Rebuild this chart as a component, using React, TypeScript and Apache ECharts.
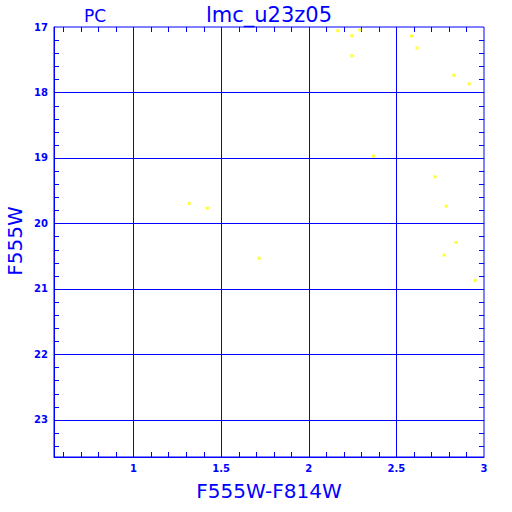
import React, { useEffect, useRef } from "react";
import * as echarts from "echarts";

const BLUE = "#0000ff";
const POINT_COLOR = "#ffff00";

const xRange = [0.547, 3];
const yRange = [17, 23.57];
const xMajor = [1, 1.5, 2, 2.5];
const xLabels = [1, 1.5, 2, 2.5, 3];
const xMinor = [0.6, 0.7, 0.8, 0.9, 1.1, 1.2, 1.3, 1.4, 1.6, 1.7, 1.8, 1.9, 2.1, 2.2, 2.3, 2.4, 2.6, 2.7, 2.8, 2.9];
const yMajor = [18, 19, 20, 21, 22, 23];
const yLabels = [17, 18, 19, 20, 21, 22, 23];
const yMinor = [
  17.2, 17.4, 17.6, 17.8, 18.2, 18.4, 18.6, 18.8, 19.2, 19.4, 19.6, 19.8,
  20.2, 20.4, 20.6, 20.8, 21.2, 21.4, 21.6, 21.8, 22.2, 22.4, 22.6, 22.8, 23.2, 23.4,
];

const colorIndex = [2.166, 2.246, 2.292, 2.246, 2.586, 2.618, 2.828, 2.915, 2.369, 2.721, 2.784, 2.841, 2.772, 2.949, 1.318, 1.422, 1.717];
const magnitude = [17.057, 17.133, 17.046, 17.439, 17.138, 17.321, 17.739, 17.867, 18.972, 19.289, 19.737, 20.292, 20.486, 20.873, 19.696, 19.768, 20.532];

export default function App() {
  const ref = useRef<HTMLDivElement>(null);
  useEffect(() => {
    if (!ref.current) return;
    const chart = echarts.init(ref.current, null, { renderer: "svg" });
    const lineStyle = { stroke: BLUE, lineWidth: 1 };
    const tickLen = 5;
    const option: any = {
      animation: false,
      backgroundColor: "#ffffff",
      grid: {
        left: 54,
        right: 28,
        top: 27,
        bottom: 55,
        show: true,
        borderColor: BLUE,
        borderWidth: 1,
        backgroundColor: "transparent",
      },
      xAxis: {
        type: "value",
        min: xRange[0],
        max: xRange[1],
        axisLine: { show: true, lineStyle: { color: BLUE, width: 1 } },
        axisTick: { show: false },
        splitLine: { show: false },
        axisLabel: {
          customValues: xLabels,
          color: BLUE,
          fontSize: 10,
          fontWeight: "bold",
          fontFamily: "DejaVu Sans",
          margin: 6,
          formatter: (v: number) => String(v),
        },
      },
      yAxis: {
        type: "value",
        inverse: true,
        min: yRange[0],
        max: yRange[1],
        interval: 1,
        axisLine: { show: true, lineStyle: { color: BLUE, width: 1 } },
        axisTick: { show: false },
        splitLine: { show: false },
        axisLabel: {
          customValues: yLabels,
          color: BLUE,
          fontSize: 10,
          fontWeight: "bold",
          fontFamily: "DejaVu Sans",
          margin: 6,
          formatter: (v: number) => String(v),
        },
      },
      graphic: [
        {
          type: "text",
          x: 95,
          y: 16,
          style: { text: "PC", fill: BLUE, font: "17px 'DejaVu Sans'", textAlign: "center", textVerticalAlign: "middle" },
        },
        {
          type: "text",
          x: 269,
          y: 15,
          style: { text: "lmc_u23z05", fill: BLUE, font: "21px 'DejaVu Sans'", textAlign: "center", textVerticalAlign: "middle" },
        },
        {
          type: "text",
          x: 269,
          y: 491,
          style: { text: "F555W-F814W", fill: BLUE, font: "20px 'DejaVu Sans'", textAlign: "center", textVerticalAlign: "middle" },
        },
        {
          type: "text",
          x: 15,
          y: 241,
          rotation: Math.PI / 2,
          style: { text: "F555W", fill: BLUE, font: "20px 'DejaVu Sans'", textAlign: "center", textVerticalAlign: "middle" },
        },
      ],
      series: [
        {
          type: "custom",
          name: "xGrid",
          clip: false,
          silent: true,
          z: 1,
          data: xMajor.map((v) => [v, yRange[0]]),
          renderItem: (params: any, api: any) => {
            const cs = params.coordSys;
            const px = Math.round(api.coord([api.value(0), api.value(1)])[0]) + 0.5;
            return { type: "line", shape: { x1: px, y1: cs.y, x2: px, y2: cs.y + cs.height }, style: lineStyle };
          },
        },
        {
          type: "custom",
          name: "yGrid",
          clip: false,
          silent: true,
          z: 1,
          data: yMajor.map((v) => [xMajor[0], v]),
          renderItem: (params: any, api: any) => {
            const cs = params.coordSys;
            const py = Math.round(api.coord([api.value(0), api.value(1)])[1]) + 0.5;
            return { type: "line", shape: { x1: cs.x, y1: py, x2: cs.x + cs.width, y2: py }, style: lineStyle };
          },
        },
        {
          type: "custom",
          name: "xMinor",
          clip: false,
          silent: true,
          z: 1,
          data: xMinor.map((v) => [v, yRange[0]]),
          renderItem: (params: any, api: any) => {
            const cs = params.coordSys;
            const px = Math.round(api.coord([api.value(0), api.value(1)])[0]) + 0.5;
            return {
              type: "group",
              children: [
                { type: "line", shape: { x1: px, y1: cs.y, x2: px, y2: cs.y + tickLen }, style: lineStyle },
                { type: "line", shape: { x1: px, y1: cs.y + cs.height, x2: px, y2: cs.y + cs.height - tickLen }, style: lineStyle },
              ],
            };
          },
        },
        {
          type: "custom",
          name: "yMinor",
          clip: false,
          silent: true,
          z: 1,
          data: yMinor.map((v) => [xMajor[0], v]),
          renderItem: (params: any, api: any) => {
            const cs = params.coordSys;
            const py = Math.round(api.coord([api.value(0), api.value(1)])[1]) + 0.5;
            return {
              type: "group",
              children: [
                { type: "line", shape: { x1: cs.x, y1: py, x2: cs.x + tickLen, y2: py }, style: lineStyle },
                { type: "line", shape: { x1: cs.x + cs.width, y1: py, x2: cs.x + cs.width - tickLen, y2: py }, style: lineStyle },
              ],
            };
          },
        },
        {
          type: "scatter",
          name: "stars",
          z: 3,
          symbol: "rect",
          symbolSize: 3,
          itemStyle: { color: POINT_COLOR },
          data: colorIndex.map((x, i) => [x, magnitude[i]]),
        },
      ],
    };
    chart.setOption(option);
    return () => chart.dispose();
  }, []);
  return (
    <div
      ref={ref}
      style={{ position: "absolute", left: 0, top: 0, width: 512, height: 512 }}
    />
  );
}
